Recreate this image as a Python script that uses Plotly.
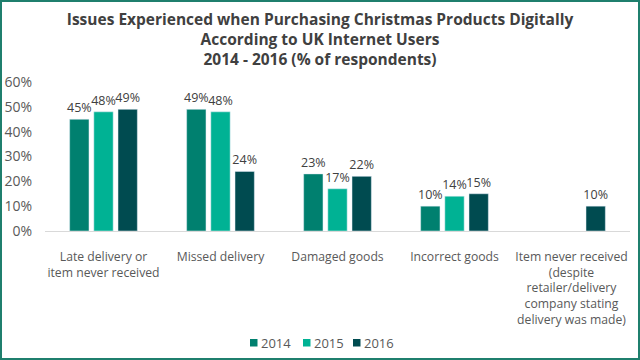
import plotly.graph_objects as go

categories = [
    "Late delivery or<br>item never received",
    "Missed delivery",
    "Damaged goods",
    "Incorrect goods",
    "Item never received<br>(despite<br>retailer/delivery<br>company stating<br>delivery was made)",
]
years = ["2014", "2015", "2016"]
v2014 = [0.45, 0.49, 0.23, 0.10, None]
v2015 = [0.48, 0.48, 0.17, 0.14, None]
v2016 = [0.49, 0.24, 0.22, 0.15, 0.10]
colors = ["#00806F", "#00B294", "#004B50"]
legend_left_px = [250, 303, 353]

FONT = "Open Sans"

L, R, T, B = 45, 10, 82, 129
W, H = 640, 360
pw, ph = W - L - R, H - T - B

def px(x):
    return (x - L) / pw

def py(y):
    return (H - B - y) / ph

fig = go.Figure()
shapes = [dict(type="rect", xref="paper", yref="paper",
               x0=px(1), x1=px(639), y0=py(359), y1=py(1),
               line=dict(color="#1F7F6D", width=2), layer="above")]
annotations = []
for i, (name, vals, c) in enumerate(zip(years, [v2014, v2015, v2016], colors)):
    fig.add_trace(go.Bar(
        name=name, x=categories, y=vals, marker_color=c, showlegend=False,
        text=[None if v is None else f"{round(v*100)}%" for v in vals],
        textposition="outside", cliponaxis=False, constraintext="none",
        textfont=dict(size=12.5, color="#404040", family=FONT),
    ))
    lx = legend_left_px[i]
    shapes.append(dict(type="rect", xref="paper", yref="paper",
                       x0=px(lx), x1=px(lx + 7.5), y0=py(346.5), y1=py(339),
                       fillcolor=c, line=dict(width=0)))
    annotations.append(dict(text=name, xref="paper", yref="paper",
                            x=px(lx + 9), y=py(343), xanchor="left", yanchor="middle",
                            showarrow=False,
                            font=dict(size=13, color="#595959", family=FONT)))

fig.update_layout(
    width=W, height=H,
    margin=dict(l=L, r=R, t=T, b=B, autoexpand=False),
    paper_bgcolor="white", plot_bgcolor="white",
    barmode="group", bargap=0.38, bargroupgap=0.2,
    title=dict(
        text="Issues Experienced when Purchasing Christmas Products Digitally<br>According to UK Internet Users<br>2014 - 2016 (% of respondents)",
        x=0.5, xanchor="center", y=1 - 25 / H, yanchor="middle",
        font=dict(size=15.5, color="#404040", family=FONT, weight="bold"),
    ),
    font=dict(family=FONT, color="#595959", size=12.2),
    xaxis=dict(showline=True, linecolor="#D9D9D9", linewidth=1, ticks="",
               automargin=False, ticklabelstandoff=14,
               tickfont=dict(size=12.2, color="#595959")),
    yaxis=dict(range=[0, 0.6], dtick=0.1, tickformat=".0%", showgrid=False,
               zeroline=False, showline=False, ticks="", automargin=False,
               ticklabelstandoff=12,
               tickfont=dict(size=14, color="#595959")),
    shapes=shapes,
    annotations=annotations,
)

fig.write_html("out.html", post_script="document.body.style.margin='0';",
               config={"displayModeBar": False})
